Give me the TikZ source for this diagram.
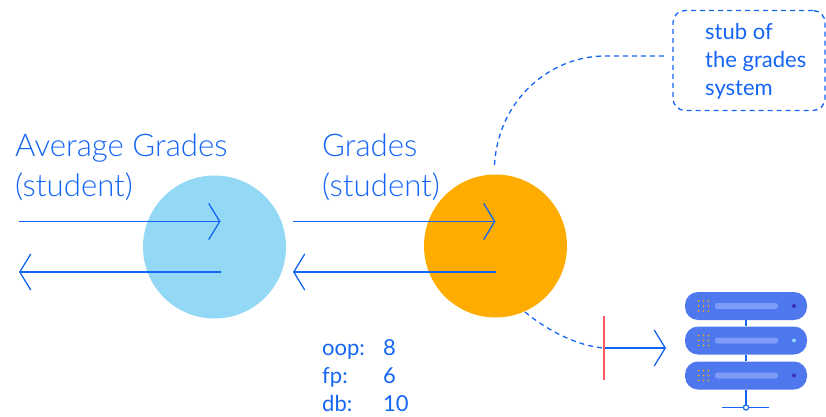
\documentclass[tikz,border=0pt]{standalone}
\usepackage{fontspec}
\setmainfont{Lato}
\newfontfamily\lightfont{Lato Light}
\usetikzlibrary{arrows.meta,positioning}
\definecolor{bl}{HTML}{1565F5}
\definecolor{sky}{HTML}{93D8F4}
\definecolor{org}{HTML}{FFAC00}
\definecolor{srv}{HTML}{4F77EE}
\definecolor{bar}{HTML}{7E9BF7}
\definecolor{stopred}{HTML}{FF5A5F}
\tikzset{
  ball/.style={circle,inner sep=0pt,minimum size=143pt},
  heading/.style={text=bl,font=\lightfont\fontsize{31.2}{40}\selectfont,anchor=base west,align=left,inner sep=0pt},
  small/.style={text=bl,font=\fontsize{22}{28}\selectfont,anchor=base west,align=left,inner sep=0pt},
  wire/.style={draw=bl,line width=1.3pt},
  flow/.style={wire,-{Straight Barb[length=11pt,width=36pt,line width=1.3pt]}},
  dashline/.style={draw=bl,line width=1.3pt,dash pattern=on 5pt off 4pt},
  rack/.style={fill=srv,draw=none,rounded corners=13pt,minimum width=122pt,minimum height=28pt,inner sep=0pt},
}
\begin{document}
\begin{tikzpicture}[x=1pt,y=-1pt]
\useasboundingbox (0,0) rectangle (826,417);
\node[ball,fill=sky] (a) at (214.5,247) {};
\node[ball,fill=org] (b) at (495.5,246) {};
\node[heading] (t1) at (15,196) {Average Grades\\(student)};
\node[heading] (t2) at (322,196) {Grades\\(student)};
\node[small] (t3) at (705,95.5) {stub of\\the grades\\system};
\node[small] (l1) at (322,355) {oop:};
\node[small] (v1) at (383,355) {8};
\node[small] (l2) at (322,383) {fp:};
\node[small] (v2) at (383,383) {6};
\node[small] (l3) at (322,411) {db:};
\node[small] (v3) at (383,411) {10};
% flows
\coordinate (a1) at (19,221.5); \coordinate (a2) at (220.5,221.5);
\coordinate (a3) at (220.5,272); \coordinate (a4) at (19,272);
\coordinate (b1) at (293,221.5); \coordinate (b2) at (495.5,221.5);
\coordinate (b3) at (495.5,272); \coordinate (b4) at (293,272);
\draw[flow] (a1) -- (a2);
\draw[flow] (a3) -- (a4);
\draw[flow] (b1) -- (b2);
\draw[flow] (b3) -- (b4);
% stub
\node[dashline,rounded corners=12pt,minimum width=152pt,minimum height=100pt,inner sep=0pt] (box) at (749,60.5) {};
\coordinate (c1) at (494.5,165);
\coordinate (c2) at (666,56);
\draw[dashline] (c1) .. controls (498,100) and (550,56) .. (605,56) -- (c2);
% server link
\coordinate (d1) at (525,312);
\coordinate (d2) at (604,348);
\coordinate (r1) at (604,316); \coordinate (r2) at (604,380);
\coordinate (e2) at (666,348);
\draw[dashline] (d1) .. controls (548,331) and (578,346) .. (d2);
\draw[flow] (d2) -- (e2);
\draw[draw=stopred,line width=2pt] (r1) -- (r2);
% server
\node[rack] (s1) at (746,306) {};
\node[rack] (s2) at (746,340.5) {};
\node[rack] (s3) at (746,375.5) {};
\coordinate (bus) at (746,407.5);
\coordinate (busl) at (722,407.5); \coordinate (busr) at (769,407.5);
\draw[draw=bl,line width=1.5pt] (s1) -- (s2);
\draw[draw=bl,line width=1.5pt] (s2) -- (s3);
\draw[draw=bl,line width=1.5pt] (s3) -- (bus);
\draw[draw=bl,line width=1.2pt] (busl) -- (busr);
\draw[draw=bl,line width=1.2pt,fill=white] (bus) circle (2.6pt);
\foreach \n/\d in {s1/3A2FB0,s2/8FD6F8,s3/3A2FB0}{
  \definecolor{dotc}{HTML}{\d}
  \fill[bar,rounded corners=2.5pt] ([xshift=-31pt,yshift=-3pt]\n.center) rectangle ([xshift=32pt,yshift=3pt]\n.center);
  \fill[dotc] ([xshift=48pt]\n.center) circle (2pt);
  \foreach \i in {0,1,2}\foreach \j in {-1,0,1}
    \fill[org] ([xshift=-47.5pt+\i*5pt,yshift=\j*5pt]\n.center) circle (0.8pt);
}
\end{tikzpicture}
\end{document}
